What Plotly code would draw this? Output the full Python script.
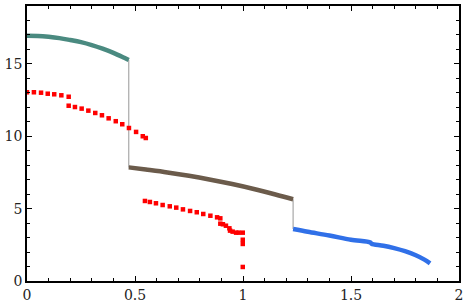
import plotly.graph_objects as go

# Teal branch
teal_x = [0.0, 0.05, 0.1, 0.15, 0.2, 0.25, 0.3, 0.35, 0.4, 0.45, 0.471]
teal_y = [16.95, 16.93, 16.87, 16.78, 16.65, 16.50, 16.30, 16.05, 15.76, 15.42, 15.27]

# Brown branch
brown_x = [0.471, 0.55, 0.65, 0.75, 0.85, 0.95, 1.05, 1.15, 1.232]
brown_y = [7.85, 7.70, 7.50, 7.27, 7.00, 6.70, 6.36, 5.98, 5.65]

# Blue branch
blue_x = [1.232, 1.3, 1.4, 1.5, 1.59, 1.595, 1.65, 1.7, 1.75, 1.8, 1.84, 1.866]
blue_y = [3.59, 3.40, 3.14, 2.85, 2.66, 2.58, 2.44, 2.27, 2.06, 1.78, 1.48, 1.22]

# Vertical connectors
jump1_x = [0.471, 0.471]
jump1_y = [15.27, 7.85]
jump2_x = [1.232, 1.232]
jump2_y = [5.65, 3.59]

# Red square markers
red_x = [0.0, 0.032, 0.065, 0.096, 0.126, 0.159, 0.193, 0.193, 0.222, 0.253, 0.284,
         0.316, 0.347, 0.378, 0.411, 0.441, 0.472, 0.505, 0.536, 0.550,
         0.546, 0.569, 0.597, 0.628, 0.661, 0.691, 0.722, 0.755, 0.786, 0.816,
         0.849, 0.880, 0.895, 0.895, 0.907, 0.921, 0.937, 0.940, 0.952, 0.968,
         0.980, 0.999, 0.999, 0.999, 0.999]
red_y = [13.04, 13.04, 13.01, 12.94, 12.90, 12.83, 12.73, 12.11, 12.02, 11.91, 11.77,
         11.61, 11.45, 11.24, 11.04, 10.83, 10.57, 10.30, 10.00, 9.88,
         5.53, 5.46, 5.37, 5.25, 5.16, 5.07, 4.95, 4.84, 4.75, 4.63,
         4.51, 4.40, 4.33, 3.96, 3.92, 3.82, 3.64, 3.48, 3.41, 3.34,
         3.34, 3.34, 2.85, 2.56, 0.97]

x_ticks = [0, 0.5, 1, 1.5, 2]
x_tick_labels = ["0", "0.5", "1", "1.5", "2"]
y_ticks = [0, 5, 10, 15]
y_tick_labels = ["0", "5", "10", "15"]

fig = go.Figure()
for jx, jy in ((jump1_x, jump1_y), (jump2_x, jump2_y)):
    fig.add_trace(go.Scatter(x=jx, y=jy, mode="lines",
                             line=dict(color="#a8a8a8", width=1.2), hoverinfo="skip"))
fig.add_trace(go.Scatter(x=teal_x, y=teal_y, mode="lines",
                         line=dict(color="#4a8a80", width=4.5, shape="spline")))
fig.add_trace(go.Scatter(x=brown_x, y=brown_y, mode="lines",
                         line=dict(color="#6b5b4b", width=4.5, shape="spline")))
fig.add_trace(go.Scatter(x=blue_x, y=blue_y, mode="lines",
                         line=dict(color="#3070e8", width=4.5, shape="spline")))
fig.add_trace(go.Scatter(x=red_x, y=red_y, mode="markers",
                         marker=dict(color="#ff0000", size=4.5, symbol="square",
                                     line=dict(width=0))))

serif = "DejaVu Serif"
axis_common = dict(
    showgrid=False, zeroline=False, showline=True, linecolor="black", linewidth=1.5,
    mirror="allticks", ticks="inside", ticklen=5, tickwidth=1, tickcolor="black",
    tickfont=dict(family=serif, size=14, color="#222"), automargin=False,
)
fig.update_xaxes(range=[0, 2], tickvals=x_ticks, ticktext=x_tick_labels,
                 minor=dict(ticks="inside", ticklen=3, dtick=0.1, tickcolor="black", tickwidth=1),
                 **axis_common)
fig.update_yaxes(range=[0, 19], tickvals=y_ticks, ticktext=y_tick_labels,
                 minor=dict(ticks="inside", ticklen=3, dtick=1, tickcolor="black", tickwidth=1),
                 **axis_common)
fig.update_layout(width=466, height=303, margin=dict(l=27, r=7, t=6, b=22, autoexpand=False),
                  font=dict(family=serif),
                  plot_bgcolor="white", paper_bgcolor="white", showlegend=False)
fig.write_html("out.html", config={"displayModeBar": False},
               post_script="document.body.style.margin='0';document.body.style.padding='0';")
